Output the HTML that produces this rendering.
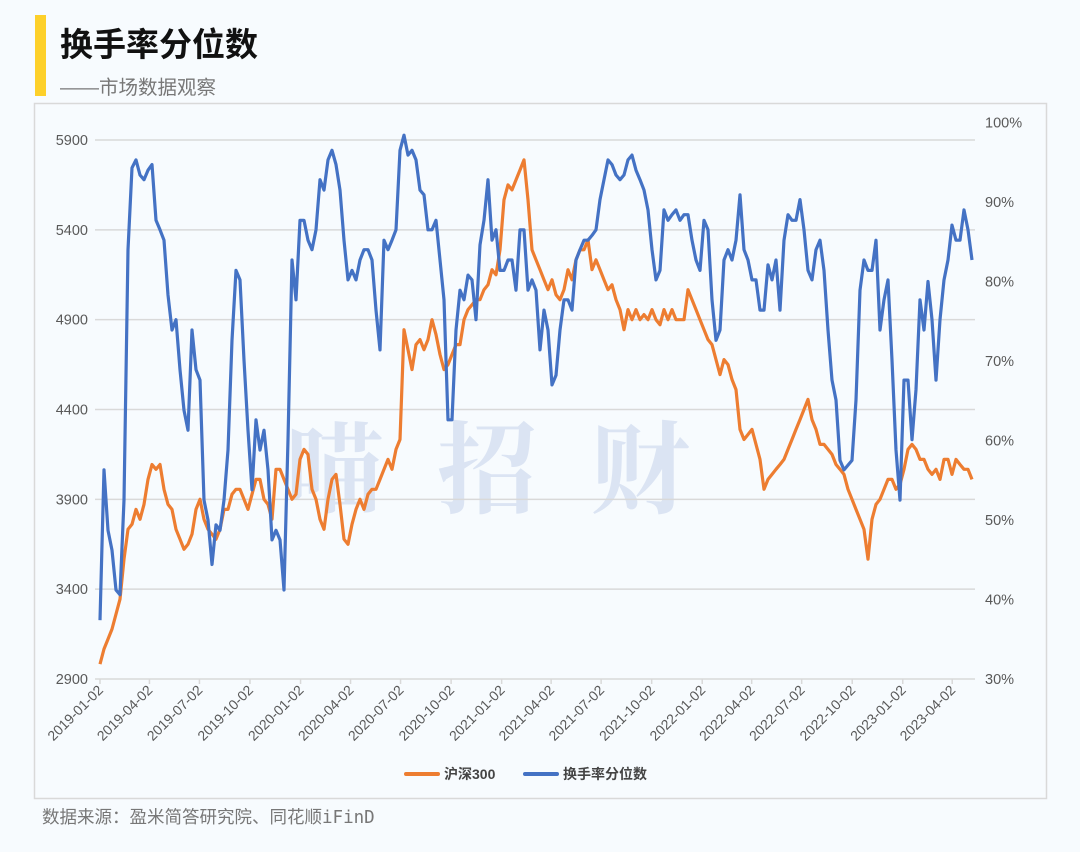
<!DOCTYPE html>
<html><head><meta charset="utf-8">
<style>
html,body{margin:0;padding:0;background:#f7fbfe;}
body{width:1080px;height:852px;position:relative;overflow:hidden;font-family:"Liberation Sans","Noto Sans CJK SC",sans-serif;}
</style></head>
<body>
<div style="position:absolute;left:35px;top:15px;width:11px;height:81px;background:#fdd02a"></div>
<div style="position:absolute;left:60px;top:18px;font-size:33px;font-weight:bold;color:#111;font-family:'Liberation Sans','Noto Sans CJK SC',sans-serif">换手率分位数</div>
<div style="position:absolute;left:60px;top:71px;font-size:19.5px;color:#777">——市场数据观察</div>
<div style="position:absolute;left:42px;top:804px;font-size:17.5px;color:#777;font-family:'DejaVu Sans Mono','Noto Sans CJK SC',monospace">数据来源：盈米简答研究院、同花顺iFinD</div>
<svg id="chart" width="1080" height="852" style="position:absolute;left:0;top:0" xmlns="http://www.w3.org/2000/svg">
<rect x="34.5" y="103.5" width="1012" height="695" fill="#f7fbfe" stroke="#d9d9d9" stroke-width="1.5"/>
<g font-family="'Noto Serif CJK SC',serif" font-size="100" font-weight="bold" fill="#dbe4f3">
<text x="285" y="505">喵</text><text x="437" y="505">招</text><text x="590" y="505">财</text>
</g>
<g id="grid"></g><g id="axes"></g><g id="series"></g>
<g font-size="14" font-weight="bold" fill="#444" font-family="'Liberation Sans','Noto Sans CJK SC',sans-serif">
<line x1="406" y1="774" x2="438" y2="774" stroke="#ed7d31" stroke-width="4" stroke-linecap="round"/>
<text x="444" y="779">沪深300</text>
<line x1="525" y1="774" x2="557" y2="774" stroke="#4472c4" stroke-width="4" stroke-linecap="round"/>
<text x="563" y="779">换手率分位数</text>
</g>
</svg>
<script>
const leftTicks=[2900,3400,3900,4400,4900,5400,5900];
const rightTicks=[30,40,50,60,70,80,90,100];
const dateLabels=["2019-01-02","2019-04-02","2019-07-02","2019-10-02","2020-01-02","2020-04-02","2020-07-02","2020-10-02","2021-01-02","2021-04-02","2021-07-02","2021-10-02","2022-01-02","2022-04-02","2022-07-02","2022-10-02","2023-01-02","2023-04-02"];
const startDate="2019-01-02";
const endDate="2023-05-08";
const turnoverPct=[37.4,56.3,48.7,46.2,41.2,40.6,52.5,84.0,94.3,95.3,93.4,92.8,94.0,94.7,87.7,86.5,85.2,78.3,73.9,75.2,68.9,63.8,61.3,73.9,68.9,67.6,52.5,50.0,44.4,49.4,48.7,52.5,58.8,72.6,81.4,80.2,70.1,61.3,53.8,62.6,58.8,61.3,56.3,47.5,48.7,47.5,41.2,60.1,82.7,77.7,87.7,87.7,85.2,84.0,86.5,92.8,91.5,95.3,96.5,94.7,91.5,85.2,80.2,81.4,80.2,82.7,84.0,84.0,82.7,76.4,71.4,85.2,84.0,85.2,86.5,96.5,98.4,95.9,96.5,95.3,91.5,90.9,86.5,86.5,87.7,82.7,77.7,62.6,62.6,73.9,78.9,77.7,80.8,80.2,75.2,84.6,87.7,92.8,85.2,86.5,81.4,81.4,82.7,82.7,78.9,86.5,86.5,78.9,80.2,78.9,71.4,76.4,73.9,67.0,68.2,73.9,77.7,77.7,76.4,82.7,84.0,85.2,85.2,85.8,86.5,90.3,92.8,95.3,94.7,93.4,92.8,93.4,95.3,95.9,94.0,92.8,91.5,89.0,84.0,80.2,81.4,89.0,87.7,88.4,89.0,87.7,88.4,88.4,85.2,82.7,81.4,87.7,86.5,77.7,72.6,73.9,82.7,84.0,82.7,85.2,90.9,84.0,82.7,80.2,80.2,76.4,76.4,82.1,80.2,82.7,76.4,85.2,88.4,87.7,87.7,90.3,86.5,81.4,80.2,84.0,85.2,81.4,73.9,67.6,65.1,57.5,56.3,56.9,57.5,65.1,78.9,82.7,81.4,81.4,85.2,73.9,77.7,80.2,70.1,58.8,52.5,67.6,67.6,60.1,66.4,77.7,73.9,80.0,75.2,67.6,75.2,80.2,82.7,87.1,85.2,85.2,89.0,86.5,82.7];
const csi300=[2983,3067,3122,3178,3261,3344,3567,3733,3761,3844,3789,3872,4011,4094,4067,4094,3956,3872,3844,3733,3678,3622,3650,3706,3844,3900,3789,3733,3706,3678,3733,3844,3844,3928,3956,3956,3900,3844,3928,4011,4011,3900,3872,3789,4067,4067,4011,3956,3900,3928,4122,4178,4150,3956,3900,3789,3733,3900,4011,4039,3872,3678,3650,3761,3844,3900,3844,3928,3956,3956,4011,4067,4122,4067,4178,4233,4844,4733,4622,4761,4789,4733,4789,4900,4817,4706,4622,4650,4706,4761,4761,4900,4956,4983,5011,5011,5067,5094,5178,5150,5289,5567,5650,5622,5678,5733,5789,5567,5289,5233,5178,5122,5067,5122,5039,5011,5067,5178,5122,5233,5289,5289,5344,5178,5233,5178,5122,5067,5094,5011,4956,4844,4956,4900,4956,4900,4928,4900,4956,4900,4872,4956,4900,4956,4900,4900,4900,5067,5011,4956,4900,4844,4789,4761,4678,4594,4678,4650,4567,4511,4289,4233,4261,4289,4206,4122,3956,4011,4039,4067,4094,4122,4178,4233,4289,4344,4400,4456,4344,4289,4206,4206,4178,4150,4094,4067,4039,3956,3900,3844,3789,3733,3567,3789,3872,3900,3956,4011,4011,3956,3983,4067,4178,4206,4178,4122,4122,4067,4039,4067,4011,4122,4122,4039,4122,4094,4067,4067,4011];

const NS="http://www.w3.org/2000/svg";
const X0=100,X1=972,YT=140,YB=679;
const d0=Date.parse(startDate),dEnd=Date.parse(endDate);
function xDate(s){return X0+(Date.parse(s)-d0)/(dEnd-d0)*(X1-X0);}
function xIdx(i,n){return X0+i*(X1-X0)/(n-1);}
function yL(v){return YB-(v-2900)/(5900-2900)*(YB-YT);}
const RT=122.5;
function yR(p){return YB-(p-30)/(100-30)*(YB-RT);}
function mk(tag,attrs,parent){const e=document.createElementNS(NS,tag);for(const k in attrs)e.setAttribute(k,attrs[k]);parent.appendChild(e);return e;}
const grid=document.getElementById('grid'),axes=document.getElementById('axes'),ser=document.getElementById('series');
leftTicks.forEach(v=>{
  const y=yL(v);
  if(v>2900){const g=mk('line',{x1:95,x2:975,y1:y,y2:y,stroke:'#d9d9d9','stroke-width':1.5},grid);
  
  }
  const t=mk('text',{x:88,y:y+5,'text-anchor':'end','font-size':14.5,fill:'#595959'},axes);
  t.textContent=v;
  
  
});
rightTicks.forEach(p=>{
  const t=mk('text',{x:985,y:yR(p)+5,'font-size':14.5,fill:'#595959'},axes);
  t.textContent=p+'%';
  
  
});
const ax=mk('line',{x1:95,x2:975,y1:YB,y2:YB,stroke:'#d9d9d9','stroke-width':1.5},axes);


dateLabels.forEach(s=>{
  const x=xDate(s);
  const tk=mk('line',{x1:x,x2:x,y1:YB,y2:YB+5,stroke:'#d9d9d9','stroke-width':1.5},axes);
  
  
  const t=mk('text',{x:x+4,y:YB+12,'text-anchor':'end','font-size':14,fill:'#595959',transform:`rotate(-45 ${x+4} ${YB+12})`},axes);
  t.textContent=s;
  
  
});
function line(arr,yf,color,name){
  const d=arr.map((v,i)=>(i?'L':'M')+xIdx(i,arr.length).toFixed(1)+' '+yf(v).toFixed(1)).join(' ');
  const p=mk('path',{d:d,fill:'none',stroke:color,'stroke-width':3.2,'stroke-linejoin':'round'},ser);
  
  
}
line(csi300,yL,'#ed7d31','csi300-line');
line(turnoverPct,yR,'#4472c4','turnover-percentile-line');
</script>
</body></html>
